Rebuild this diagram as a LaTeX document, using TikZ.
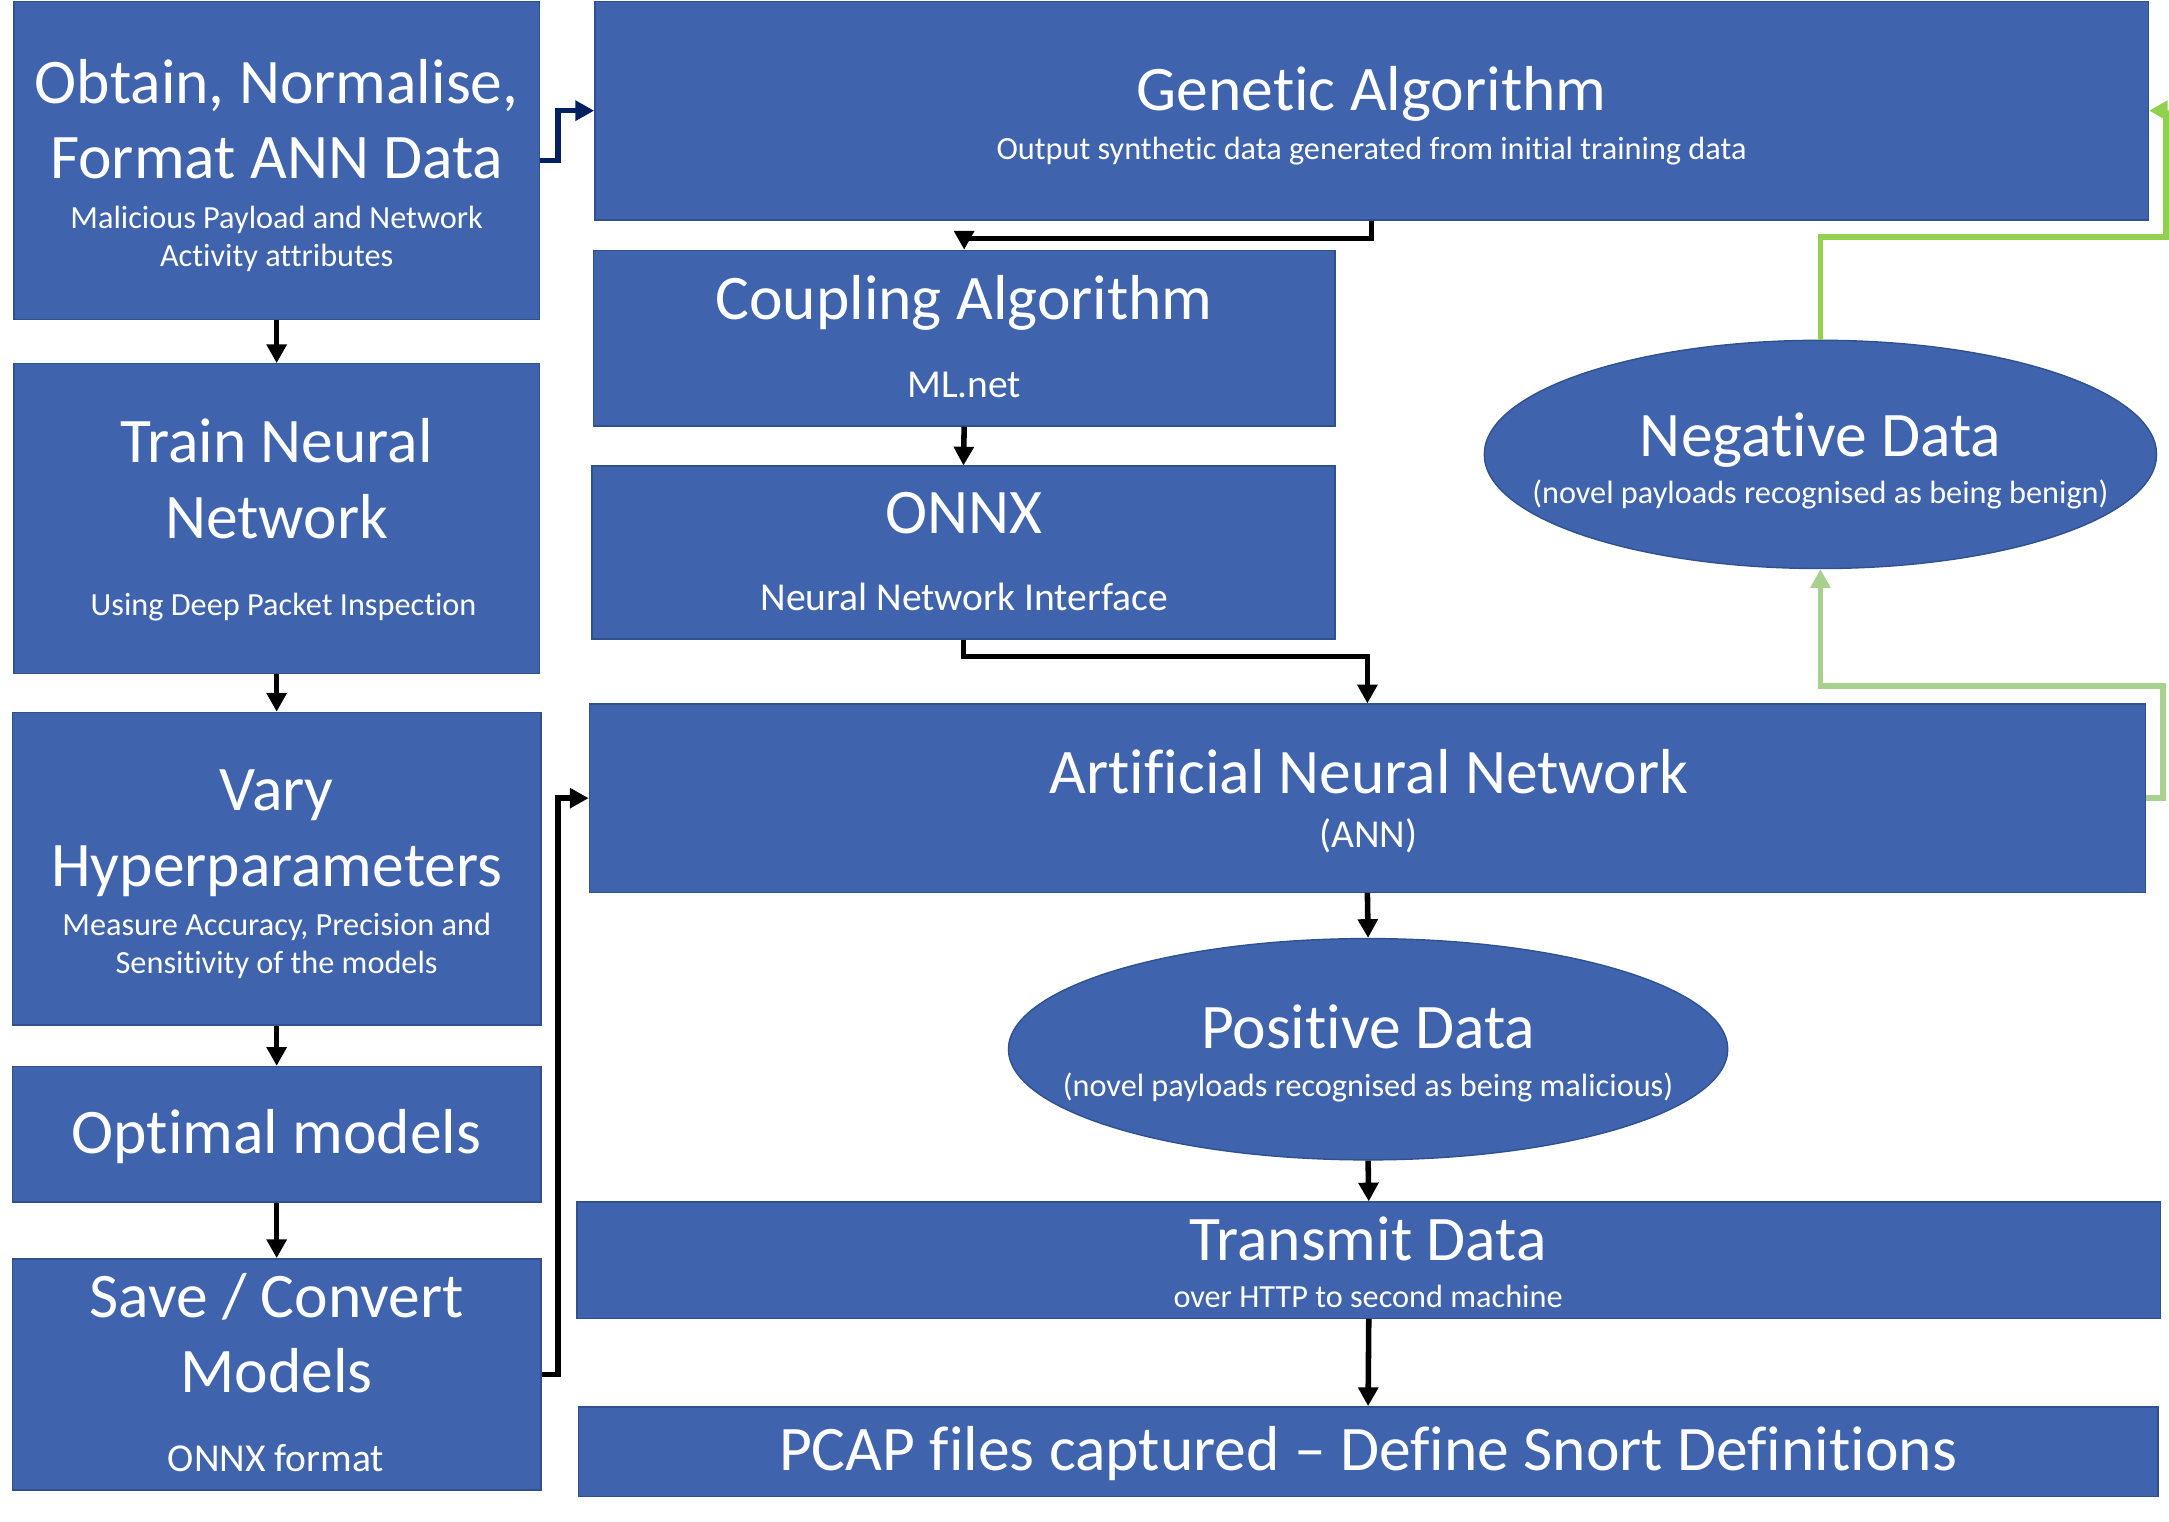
\documentclass[tikz,border=0pt]{standalone}
\usepackage{fontspec}
\setmainfont{Carlito}[Ligatures=NoCommon]
\usetikzlibrary{arrows.meta,shapes.geometric}
\definecolor{boxblue}{RGB}{63,100,173}
\definecolor{boxedge}{RGB}{47,82,143}
\definecolor{navyline}{RGB}{0,32,96}
\definecolor{greenline}{RGB}{146,208,80}
\definecolor{lightgreen}{RGB}{169,209,142}
\newcommand{\pxu}{0.014cm}
\newcommand{\bigtxt}{\fontsize{18.3}{21.7}\selectfont}
\newcommand{\midtxt}{\fontsize{11.4}{13.5}\selectfont}
\newcommand{\smalltxt}{\fontsize{9.3}{11}\selectfont}

\begin{document}
\begin{tikzpicture}[x=0.014cm,y=-0.014cm,
    box/.style={draw=boxedge,line width=0.4pt,fill=boxblue,inner sep=0pt},
    oval/.style={ellipse,draw=boxedge,line width=0.4pt,fill=boxblue,inner sep=0pt},
    txt/.style={text=white,inner sep=0pt,anchor=base,align=center},
    flow/.style={black,line width=1.6pt,-{Triangle[length=5.4pt,width=5.6pt]}}]
  \useasboundingbox (0,0) rectangle (1568,1099.6);
  % left column
  \node[box,minimum width=380*\pxu,minimum height=230*\pxu] (obtain) at (200,116) {};
  \node[box,minimum width=380*\pxu,minimum height=224*\pxu] (train) at (200,375) {};
  \node[box,minimum width=382*\pxu,minimum height=226*\pxu] (vary) at (200,628) {};
  \node[box,minimum width=382*\pxu,minimum height=98*\pxu] (optimal) at (200,820) {};
  \node[box,minimum width=382*\pxu,minimum height=167*\pxu] (save) at (200,993.5) {};
  % right column
  \node[box,minimum width=1123*\pxu,minimum height=158*\pxu] (genetic) at (991.5,80) {};
  \node[box,minimum width=536*\pxu,minimum height=127*\pxu] (coupling) at (697,244.5) {};
  \node[box,minimum width=537*\pxu,minimum height=125*\pxu] (onnx) at (696.5,399.5) {};
  \node[box,minimum width=1125*\pxu,minimum height=136*\pxu] (ann) at (988.5,577) {};
  \node[oval,minimum width=486*\pxu,minimum height=165*\pxu] (negative) at (1316,328.5) {};
  \node[oval,minimum width=520*\pxu,minimum height=160*\pxu] (positive) at (989,758.5) {};
  \node[box,minimum width=1145*\pxu,minimum height=84*\pxu] (transmit) at (989.5,911) {};
  \node[box,minimum width=1142*\pxu,minimum height=65*\pxu] (pcap) at (989,1049.5) {};

  % texts (base = last line)
  \node[txt,font=\bigtxt] (obtainT) at (200,129) {Obtain, Normalise,\\Format ANN Data};
  \node[txt,font=\smalltxt] (obtainS) at (200,192.6) {Malicious Payload and Network\\Activity attributes};
  \node[txt,font=\bigtxt] (trainT) at (200,389) {Train Neural\\Network};
  \node[txt,font=\smalltxt] (trainS) at (205,445) {Using Deep Packet Inspection};
  \node[txt,font=\bigtxt] (varyT) at (200,640.5) {Vary\\Hyperparameters};
  \node[txt,font=\smalltxt] (varyS) at (200,704) {Measure Accuracy, Precision and\\Sensitivity of the models};
  \node[txt,font=\bigtxt] (optimalT) at (200,834) {Optimal models};
  \node[txt,font=\bigtxt] (saveT) at (200,1007) {Save / Convert\\Models};
  \node[txt,font=\midtxt] (saveS) at (199.5,1064) {ONNX format};
  \node[txt,font=\bigtxt] (geneticT) at (991.5,79.7) {Genetic Algorithm};
  \node[txt,font=\smalltxt] (geneticS) at (991.5,115) {Output synthetic data generated from initial training data};
  \node[txt,font=\bigtxt] (couplingT) at (697,231) {Coupling Algorithm};
  \node[txt,font=\midtxt] (couplingS) at (697,287) {ML.net};
  \node[txt,font=\bigtxt] (onnxT) at (697,385.5) {ONNX};
  \node[txt,font=\midtxt] (onnxS) at (697,441) {Neural Network Interface};
  \node[txt,font=\bigtxt] (annT) at (989.5,573.5) {Artificial Neural Network};
  \node[txt,font=\midtxt] (annS) at (989,613) {(ANN)};
  \node[txt,font=\bigtxt] (negativeT) at (1316,330) {Negative Data};
  \node[txt,font=\smalltxt] (negativeS) at (1316,364) {(novel payloads recognised as being benign)};
  \node[txt,font=\bigtxt] (positiveT) at (989,758) {Positive Data};
  \node[txt,font=\smalltxt] (positiveS) at (989,793) {(novel payloads recognised as being malicious)};
  \node[txt,font=\bigtxt] (transmitT) at (989,911) {Transmit Data};
  \node[txt,font=\smalltxt] (transmitS) at (989,945) {over HTTP to second machine};
  \node[txt,font=\bigtxt] (pcapT) at (989,1063) {PCAP files captured -- Define Snort Definitions};

  % connectors
  \draw[flow] (obtain.south) -- (train.north);
  \draw[flow] (train.south) -- (vary.north);
  \draw[flow] (vary.south) -- (optimal.north);
  \draw[flow] (optimal.south) -- (save.north);
  \draw[flow,navyline] (obtain.east) -- ++(13,0) |- (genetic.west);
  \draw[flow] (genetic.south) -- ++(0,13) -| (coupling.north);
  \draw[flow] (coupling.south) -- (onnx.north);
  \draw[flow] (onnx.south) -- ++(0,12) -| (ann.north);
  \draw[flow] (save.east) -- ++(12,0) |- (ann.west);
  \draw[flow] (ann.south) -- (positive.north);
  \draw[flow] (positive.south) -- (transmit.north);
  \draw[flow] (transmit.south) -- (pcap.north);
  \draw[flow,lightgreen] (ann.east) -- ++(12,0) -- ++(0,-81) -| (negative.south);
  \draw[flow,greenline] (negative.north) -- ++(0,-74) -- ++(250,0) |- (genetic.east);
\end{tikzpicture}
\end{document}
